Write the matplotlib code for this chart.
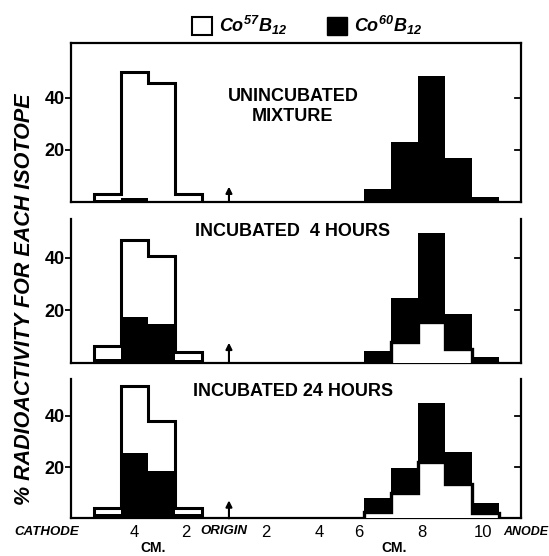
import matplotlib.pyplot as plt
from matplotlib.patches import Patch

plt.rcParams['font.family'] = ['Liberation Sans', 'DejaVu Sans']
plt.rcParams['mathtext.fontset'] = 'custom'
plt.rcParams['mathtext.it'] = 'Liberation Sans:bold:italic'
plt.rcParams['mathtext.rm'] = 'Liberation Sans:bold:italic'
plt.rcParams['mathtext.bf'] = 'Liberation Sans:bold:italic'

# bin edges in cm (cathode side negative, anode side positive)
left_edges = [-5, -4, -3, -2, -1]
right_edges = [5, 6, 7, 8, 9, 10]

# % radioactivity per 1 cm segment
unincub_co57_left = [2.8, 50, 45.5, 2.8]
unincub_co60_left = [0.8, 1.5, 0, 0]
unincub_co57_right = [0, 0, 0, 0, 0]
unincub_co60_right = [4.8, 23, 48.3, 16.7, 1.9]

inc4_co57_left = [6.3, 46.8, 40.5, 4.2]
inc4_co60_left = [1.5, 17.5, 14.6, 1.2]
inc4_co57_right = [0, 8, 15.6, 5.3, 0]
inc4_co60_right = [4.5, 24.8, 49.4, 18.4, 2.3]

inc24_co57_left = [4, 51.7, 38, 4]
inc24_co60_left = [1.5, 25.4, 18.5, 1.5]
inc24_co57_right = [2.6, 9.8, 22.1, 13.4, 2.2]
inc24_co60_right = [7.8, 19.5, 44.9, 25.8, 6.1]

titles = ['UNINCUBATED\nMIXTURE', 'INCUBATED  4 HOURS', 'INCUBATED 24 HOURS']
ytick_vals = [20, 40]
xtick_pos = [-3.5, -1.58, -0.2, 1.35, 3.33, 4.8, 7.15, 9.4]
xtick_labels = ['4', '2', 'ORIGIN', '2', '4', '6', '8', '10']

fig = plt.figure(figsize=(5.49, 5.56), dpi=100)
ax1 = fig.add_axes([0.1302, 0.6372, 0.8197, 0.286])
ax2 = fig.add_axes([0.1302, 0.3477, 0.8197, 0.258])
ax3 = fig.add_axes([0.1302, 0.0678, 0.8197, 0.250])

panels = [
    (ax1, unincub_co57_left, unincub_co60_left, unincub_co57_right, unincub_co60_right, 61.2, 0.60, 5.8),
    (ax2, inc4_co57_left, inc4_co60_left, inc4_co57_right, inc4_co60_right, 54.7, 0.913, 7.6),
    (ax3, inc24_co57_left, inc24_co60_left, inc24_co57_right, inc24_co60_right, 54.3, 0.911, 7.0),
]

for i, (ax, w_l, b_l, w_r, b_r, ytop, ty, arr) in enumerate(panels):
    # cathode side: open Co57 outline behind, solid Co60 in front
    ax.stairs(w_l, left_edges, fill=True, color='white', zorder=2)
    ax.stairs(w_l, left_edges, baseline=0, color='black', lw=2.2, zorder=3)
    ax.stairs(b_l, left_edges, fill=True, color='black', zorder=4)
    # anode side: solid Co60 behind, open Co57 in front
    ax.stairs(b_r, right_edges, fill=True, color='black', zorder=2)
    ax.stairs(w_r, right_edges, fill=True, color='white', zorder=3)
    ax.stairs(w_r, right_edges, baseline=0, color='black', lw=2.4, zorder=4)

    ax.annotate('', xy=(0, arr), xytext=(0, 0),
                arrowprops=dict(arrowstyle='-|>', color='black', lw=1.5,
                                mutation_scale=9, shrinkA=0, shrinkB=0))

    ax.text(0.492, ty, titles[i], transform=ax.transAxes, ha='center', va='center',
            fontsize=13, fontweight='bold', linespacing=1.25)

    ax.set_xlim(-5.83, 10.83)
    ax.set_ylim(0, ytop)
    ax.set_yticks(ytick_vals)
    ax.tick_params(axis='y', which='both', left=True, right=False, labelleft=True,
                   direction='out', length=4, width=1.3, labelsize=13, pad=1)
    for lab in ax.get_yticklabels():
        lab.set_fontweight('bold')
    # inward ticks on the right spine
    for v in ytick_vals:
        ax.plot([1, 0.985], [v, v], transform=ax.get_yaxis_transform(),
                color='black', lw=1.3, clip_on=False)
    for s in ax.spines.values():
        s.set_linewidth(1.6)
    if i > 0:
        ax.spines['top'].set_visible(False)
    ax.set_xticks([])

ax3.set_xticks(xtick_pos)
ax3.set_xticklabels(xtick_labels, fontsize=12)
ax3.tick_params(axis='x', length=0, pad=5)
for lab in ax3.get_xticklabels():
    if lab.get_text() == 'ORIGIN':
        lab.set_fontsize(9.5)
        lab.set_fontweight('bold')
        lab.set_fontstyle('italic')

ax3.text(-6.76, -0.096, 'CATHODE', transform=ax3.get_xaxis_transform(), ha='center',
         va='center', fontsize=9.5, fontweight='bold', fontstyle='italic', clip_on=False)
ax3.text(11.0, -0.096, 'ANODE', transform=ax3.get_xaxis_transform(), ha='center',
         va='center', fontsize=9, fontweight='bold', fontstyle='italic', clip_on=False)
ax3.text(-2.8, -0.215, 'CM.', transform=ax3.get_xaxis_transform(), ha='center',
         va='center', fontsize=10, fontweight='bold', clip_on=False)
ax3.text(6.1, -0.215, 'CM.', transform=ax3.get_xaxis_transform(), ha='center',
         va='center', fontsize=10, fontweight='bold', clip_on=False)

fig.text(0.044, 0.462, '% RADIOACTIVITY FOR EACH ISOTOPE', rotation=90,
         ha='center', va='center', fontsize=15.5, fontweight='bold', fontstyle='italic')

handles = [Patch(facecolor='white', edgecolor='black', lw=1.5),
           Patch(facecolor='black', edgecolor='black')]
fig.legend(handles, [r'$Co^{57}B_{12}$', r'$Co^{60}B_{12}$'], loc='center',
           bbox_to_anchor=(0.56, 1 - 25.5 / 556), ncol=2, frameon=False,
           fontsize=13, handlelength=1.1, handleheight=1.1, handletextpad=0.4,
           columnspacing=2.2)

plt.savefig('out.png', dpi=100)
